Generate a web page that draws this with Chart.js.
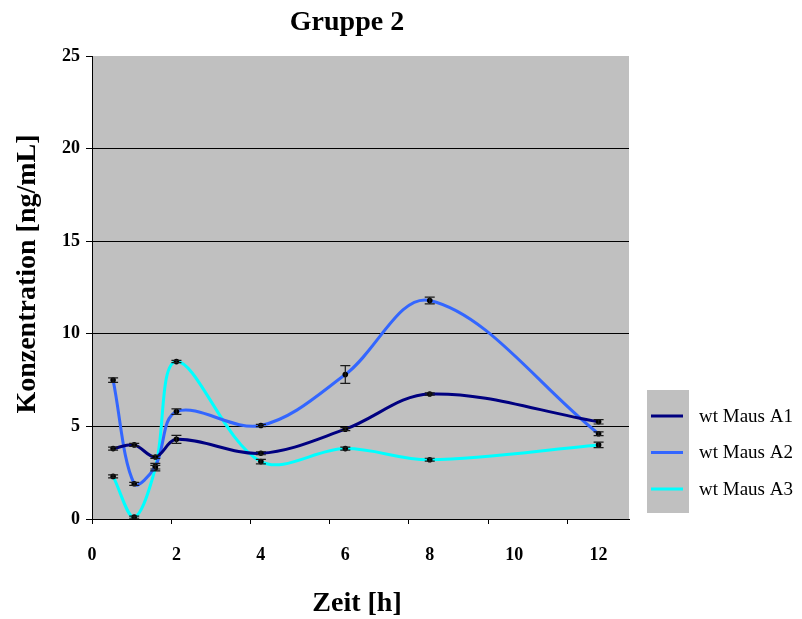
<!DOCTYPE html>
<html>
<head>
<meta charset="utf-8">
<script src="https://cdn.jsdelivr.net/npm/chart.js@4"></script>
<style>
  html, body { margin: 0; padding: 0; background: #fff; }
  #wrap { width: 802px; height: 619px; position: relative; }
</style>
</head>
<body>
<div id="wrap"><canvas id="c" width="802" height="619"></canvas></div>
<script>
// Sampling times (h)
const zeit = [0.5, 1, 1.5, 2, 4, 6, 8, 12];
// Concentrations (ng/mL) per animal
const mausA1 = [3.8, 4.0, 3.35, 4.3, 3.55, 4.85, 6.75, 5.25];
const mausA2 = [7.5, 1.9, 2.85, 5.8, 5.05, 7.8, 11.8, 4.6];
const mausA3 = [2.3, 0.1, 2.75, 8.5, 3.1, 3.8, 3.2, 4.0];
// Standard deviations
const fehlerA1 = [0.08, 0.08, 0.08, 0.22, 0.08, 0.08, 0.06, 0.12];
const fehlerA2 = [0.12, 0.08, 0.15, 0.15, 0.06, 0.48, 0.18, 0.1];
const fehlerA3 = [0.08, 0.06, 0.15, 0.06, 0.12, 0.08, 0.08, 0.15];
const serienNamen = ['wt Maus A1', 'wt Maus A2', 'wt Maus A3'];
const serienFarben = ['#000080', '#3366FF', '#00FFFF'];
const xTicks = [0, 2, 4, 6, 8, 10, 12];
const yTicks = [0, 5, 10, 15, 20, 25];

const FONT = '"Liberation Serif", "Times New Roman", serif';

function points(vals) { return zeit.map((t, i) => ({ x: t, y: vals[i] })); }

const werte = [mausA1, mausA2, mausA3];
const fehler = [fehlerA1, fehlerA2, fehlerA3];

const datasets = werte.map((v, k) => ({
  label: serienNamen[k],
  data: points(v),
  errors: fehler[k],
  xAxisID: 'x',
  yAxisID: 'y',
  borderColor: serienFarben[k],
  borderWidth: 3,
  tension: 0.35,
  fill: false,
  pointRadius: 2.8,
  pointBackgroundColor: '#000',
  pointBorderWidth: 0,
  pointHoverRadius: 2.8
}));

// Gray plotting area
const plotBackground = {
  id: 'plotBackground',
  beforeDraw(chart) {
    const { ctx, chartArea: a } = chart;
    ctx.save();
    ctx.fillStyle = '#C0C0C0';
    ctx.fillRect(a.left, a.top, a.right - a.left, a.bottom - a.top);
    ctx.restore();
  }
};

// Vertical error bars with caps
const errorBars = {
  id: 'errorBars',
  afterDatasetsDraw(chart) {
    const { ctx, scales } = chart;
    ctx.save();
    ctx.strokeStyle = '#1a1a1a';
    ctx.lineWidth = 1.2;
    chart.data.datasets.forEach((ds) => {
      ds.data.forEach((p, i) => {
        const e = ds.errors[i];
        const px = scales.x.getPixelForValue(p.x);
        const yTop = scales.y.getPixelForValue(p.y + e);
        const yBot = scales.y.getPixelForValue(p.y - e);
        const w = 5;
        ctx.beginPath();
        ctx.moveTo(px, yTop); ctx.lineTo(px, yBot);
        ctx.moveTo(px - w, yTop); ctx.lineTo(px + w, yTop);
        ctx.moveTo(px - w, yBot); ctx.lineTo(px + w, yBot);
        ctx.stroke();
      });
    });
    ctx.restore();
  }
};

// Titles and legend
const beschriftung = {
  id: 'beschriftung',
  afterDraw(chart) {
    const { ctx } = chart;
    ctx.save();
    ctx.fillStyle = '#000';
    ctx.textAlign = 'center';
    ctx.textBaseline = 'middle';
    ctx.font = 'bold 28px ' + FONT;
    ctx.fillText('Gruppe 2', 347, 23);
    ctx.fillText('Zeit [h]', 357, 604);
    ctx.save();
    ctx.translate(28, 274);
    ctx.rotate(-Math.PI / 2);
    ctx.fillText('Konzentration [ng/mL]', 0, 0);
    ctx.restore();

    // legend
    ctx.fillStyle = '#C0C0C0';
    ctx.fillRect(647, 390, 42, 123);
    ctx.font = '19px ' + FONT;
    ctx.textAlign = 'left';
    chart.data.datasets.forEach((ds, k) => {
      const y = 416 + k * 36.5;
      ctx.strokeStyle = ds.borderColor;
      ctx.lineWidth = 3;
      ctx.beginPath();
      ctx.moveTo(651, y); ctx.lineTo(683, y);
      ctx.stroke();
      ctx.fillStyle = '#000';
      ctx.fillText(ds.label, 699, y + 1);
    });
    ctx.restore();
  }
};

new Chart(document.getElementById('c'), {
  type: 'line',
  data: { datasets },
  options: {
    responsive: false,
    animation: false,
    events: [],
    layout: { padding: { left: 0, top: 56, right: 173, bottom: 0 } },
    plugins: { legend: { display: false }, title: { display: false }, tooltip: { enabled: false } },
    scales: {
      xMarks: {
        type: 'linear',
        axis: 'x',
        position: 'bottom',
        weight: 0,
        min: 0,
        max: 537 / 79.2,
        afterFit: (s) => { s.height = 6; },
        ticks: { display: false, stepSize: 1, includeBounds: false },
        grid: { display: true, drawOnChartArea: false, drawTicks: true, tickLength: 5, color: '#000', tickColor: '#000' },
        border: { display: true, color: '#000', width: 1 }
      },
      x: {
        type: 'linear',
        position: 'bottom',
        weight: 1,
        min: 0,
        max: 12.72,
        afterFit: (s) => { s.height = 94; },
        afterBuildTicks: (s) => { s.ticks = xTicks.map(v => ({ value: v })); },
        ticks: { color: '#000', font: { family: FONT, size: 18, weight: 'bold' }, padding: 20, maxRotation: 0, includeBounds: false },
        grid: { display: false, drawTicks: false },
        border: { display: false }
      },
      y: {
        type: 'linear',
        min: 0,
        max: 25,
        afterFit: (s) => { s.width = 92; },
        afterBuildTicks: (s) => { s.ticks = yTicks.map(v => ({ value: v })); },
        ticks: { color: '#000', font: { family: FONT, size: 18, weight: 'bold' }, padding: 6 },
        grid: {
          color: (c) => (c.tick && c.tick.value > 0 && c.tick.value < 25) ? '#000' : 'rgba(0,0,0,0)',
          tickColor: '#000',
          tickLength: 6,
          lineWidth: 1
        },
        border: { display: true, color: '#000', width: 1 }
      }
    }
  },
  plugins: [plotBackground, errorBars, beschriftung]
});
</script>
</body>
</html>
